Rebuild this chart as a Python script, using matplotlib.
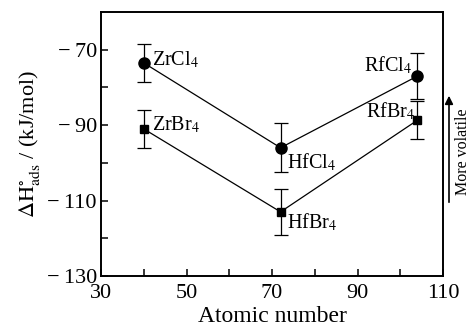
import numpy as np
import matplotlib
matplotlib.use("Agg")
import matplotlib.pyplot as plt
from matplotlib.ticker import FixedLocator, FuncFormatter

plt.rcParams['font.family'] = ['Liberation Serif', 'DejaVu Serif']
plt.rcParams['mathtext.fontset'] = 'stix'

# atomic numbers of Zr, Hf, Rf
z = [40, 72, 104]
cl_vals = [-73.5, -96, -77]
cl_err = [5, 6.5, 6]
br_vals = [-91, -113, -88.7]
br_err = [5, 6, 5]
cl_names = ["ZrCl$_4$", "HfCl$_4$", "RfCl$_4$"]
br_names = ["ZrBr$_4$", "HfBr$_4$", "RfBr$_4$"]

fig = plt.figure(figsize=(4.76, 3.27), dpi=100)
ax = fig.add_axes([101/476, 51/327, 342/476, 264/327])

ax.errorbar(z, cl_vals, yerr=cl_err, color="black", marker="o", ms=8,
            lw=0.9, elinewidth=0.9, capsize=5, capthick=0.9)
ax.errorbar(z, br_vals, yerr=br_err, color="black", marker="s", ms=6,
            lw=0.9, elinewidth=0.9, capsize=5, capthick=0.9)

# labels next to points
offs_cl = [(1.9, 0.8), (1.5, -4), (-1.3, 2.7)]
offs_br = [(1.9, 1), (1.5, -2.8), (-0.6, 2.2)]
for i in range(3):
    ha = "right" if i == 2 else "left"
    ax.text(z[i] + offs_cl[i][0], cl_vals[i] + offs_cl[i][1], cl_names[i],
            fontsize=14.5, ha=ha, va="center")
    ax.text(z[i] + offs_br[i][0], br_vals[i] + offs_br[i][1], br_names[i],
            fontsize=14.5, ha=ha, va="center")

ax.set_xlim(30, 110)
ax.set_ylim(-130, -60)
ax.xaxis.set_major_locator(FixedLocator([30, 50, 70, 90, 110]))
ax.xaxis.set_minor_locator(FixedLocator([40, 60, 80, 100]))
ax.yaxis.set_major_locator(FixedLocator([-130, -110, -90, -70]))
ax.yaxis.set_minor_locator(FixedLocator([-120, -100, -80]))
ax.yaxis.set_major_formatter(FuncFormatter(lambda v, p: "\u2212\u2009%d" % abs(v)))
ax.tick_params(which="both", direction="in", width=1.1, length=5, labelsize=16)
ax.tick_params(axis="y", which="major", pad=3)
ax.tick_params(axis="x", which="major", pad=6)
for s in ax.spines.values():
    s.set_linewidth(1.4)

ax.set_xlabel("Atomic number", fontsize=17, labelpad=2)
ax.set_ylabel(r"$\Delta\mathrm{H}^{\circ}_{\mathrm{ads}}$ / (kJ/mol)", fontsize=16, labelpad=3)

# arrow outside right
ax.annotate("", xy=(449/476, 1 - 93/327), xytext=(449/476, 1 - 205/327),
            xycoords="figure fraction",
            arrowprops=dict(arrowstyle="-|>", color="black", lw=1.2, mutation_scale=12))
fig.text(463/476, 1 - 152/327, "More volatile", rotation=90, fontsize=11.5,
         ha="center", va="center")

fig.savefig("out.png", dpi=100)
